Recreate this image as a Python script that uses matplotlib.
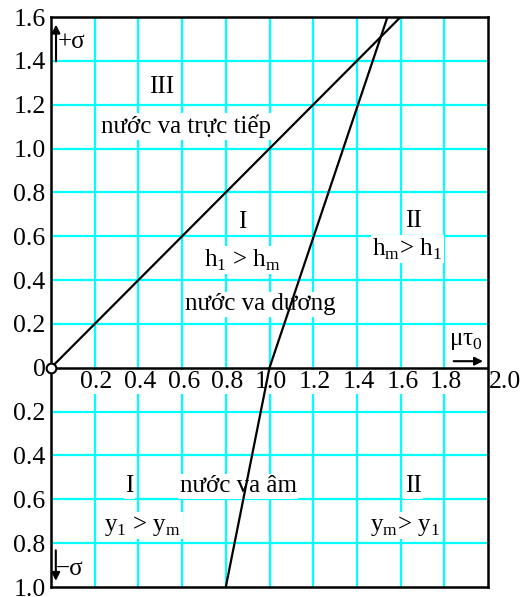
import matplotlib.pyplot as plt
import numpy as np

plt.rcParams['font.family'] = ['Liberation Serif', 'DejaVu Serif']

# grid / tick positions
x_ticks = [0.2, 0.4, 0.6, 0.8, 1.0, 1.2, 1.4, 1.6, 1.8]
x_labels = ['0.2', '0.4', '0.6', '0.8', '1.0', '1.2', '1.4', '1.6', '1.8']
y_ticks = [1.6, 1.4, 1.2, 1.0, 0.8, 0.6, 0.4, 0.2, 0.0,
           -0.2, -0.4, -0.6, -0.8, -1.0]
y_labels = ['1.6', '1.4', '1.2', '1.0', '0.8', '0.6', '0.4', '0.2', '0',
            '0.2', '0.4', '0.6', '0.8', '1.0']

# boundary lines
diag_x = [0.0, 1.6]
diag_y = [0.0, 1.6]
steep_x = [0.80, 1.00, 1.54]
steep_y = [-1.0, 0.0, 1.6]

fig = plt.figure(figsize=(5.21, 5.97), dpi=100)
ax = fig.add_axes([51/521, 1 - 587/597, 437/521, 570/597])
ax.set_xlim(0, 2.0)
ax.set_ylim(-1.0, 1.6)

cyan = '#00ffff'
for x in x_ticks:
    ax.axvline(x, color=cyan, lw=1.6, zorder=0)
for y in y_ticks:
    if y not in (1.6, 0.0, -1.0):
        ax.axhline(y, color=cyan, lw=1.6, zorder=0)

for s in ax.spines.values():
    s.set_linewidth(1.8)
ax.axhline(0, color='black', lw=1.8, zorder=3)

ax.plot(diag_x, diag_y, color='black', lw=1.6, zorder=4)
ax.plot(steep_x, steep_y, color='black', lw=1.6, zorder=4)
ax.plot([0], [0], marker='o', ms=7, mfc='white', mec='black', mew=1.5,
        zorder=5, clip_on=False)

fs = 18
tfs = 18.5
ax.set_xticks([])
ax.set_yticks(y_ticks)
ax.set_yticklabels(y_labels, fontsize=tfs)
ax.tick_params(axis='y', length=0, pad=4)

wb = dict(facecolor='white', edgecolor='none', pad=1)
for x, lab in zip(x_ticks, x_labels):
    ax.text(x + 0.008, -0.065, lab, ha='center', va='center', fontsize=tfs,
            bbox=wb, zorder=2)
ax.text(2.003, -0.065, '2.0', ha='left', va='center', fontsize=tfs,
        clip_on=False, zorder=2)

sub = r'$_\mathregular{%s}$'
labels = [
    (0.508, 1.28, 'III'),
    (0.618, 1.10, 'nước va trực tiếp'),
    (0.874, 0.665, 'I'),
    (0.874, 0.49, 'h' + sub % '1' + ' > h' + sub % 'm'),
    (0.96, 0.29, 'nước va dương'),
    (1.657, 0.67, 'II'),
    (1.63, 0.54, 'h' + sub % 'm' + '> h' + sub % '1'),
    (0.36, -0.54, 'I'),
    (0.42, -0.72, 'y' + sub % '1' + ' > y' + sub % 'm'),
    (0.856, -0.54, 'nước va âm'),
    (1.657, -0.54, 'II'),
    (1.62, -0.72, 'y' + sub % 'm' + '> y' + sub % '1'),
]
for x, y, t in labels:
    ax.text(x, y, t, ha='center', va='center', fontsize=fs, bbox=wb, zorder=2)

# axis arrows
arrow = dict(arrowstyle='-|>', color='black', lw=1.5, mutation_scale=12)
ax.annotate('', xy=(1.99, 0.03), xytext=(1.83, 0.03), arrowprops=arrow,
            zorder=6)
ax.text(1.90, 0.12, 'μτ' + sub % '0', ha='center', va='center', fontsize=fs,
        bbox=wb, zorder=2)
ax.annotate('', xy=(0.023, 1.578), xytext=(0.023, 1.385), arrowprops=arrow,
            zorder=6)
ax.text(0.032, 1.485, '+σ', ha='left', va='center', fontsize=fs, zorder=2)
ax.annotate('', xy=(0.022, -0.985), xytext=(0.022, -0.82), arrowprops=arrow,
            zorder=6)
ax.text(0.024, -0.918, '−σ', ha='left', va='center', fontsize=fs, zorder=2)

fig.savefig('out.png', dpi=100)
